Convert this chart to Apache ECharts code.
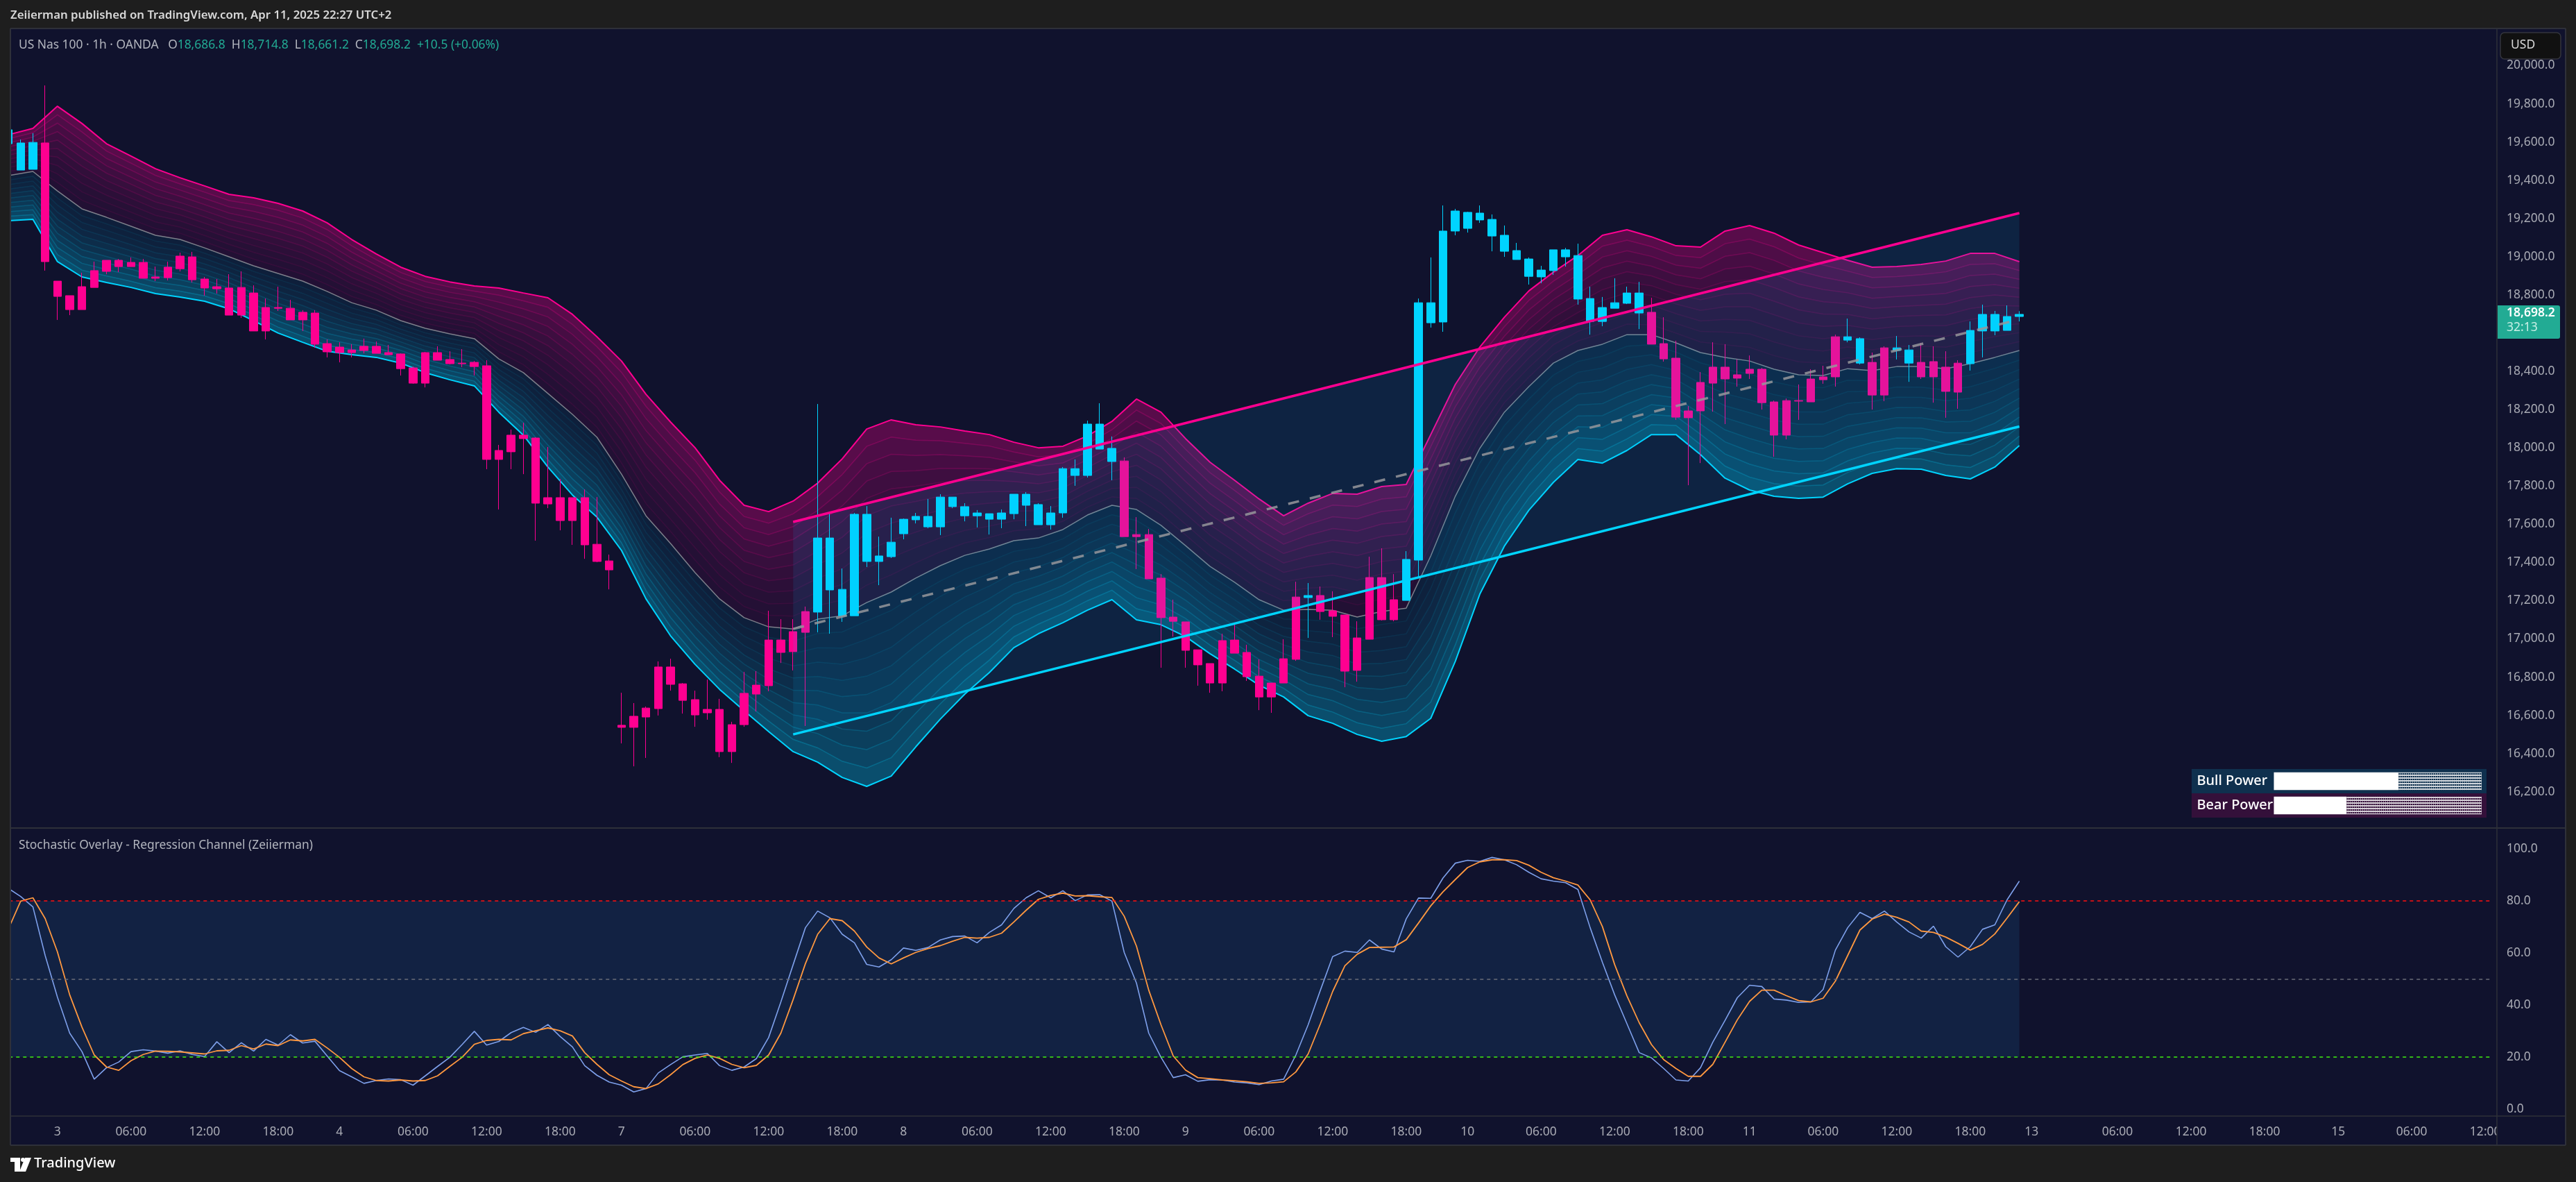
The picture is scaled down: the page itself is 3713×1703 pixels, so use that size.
<!DOCTYPE html>
<html>
<head>
<meta charset="utf-8">
<style>html,body{margin:0;padding:0;background:#1e1e1e}#main{width:3713px;height:1703px}</style>
<script src="https://cdn.jsdelivr.net/npm/echarts@6/dist/echarts.min.js"></script>
</head>
<body>
<div id="main"></div>
<script>
// tick labels under the lower pane, by bar index
var timeTickIndex = [4, 10, 16, 22, 27, 33, 39, 45, 50, 56, 62, 68, 73, 79, 85, 91, 96, 102, 108, 114, 119, 125, 131, 137, 142, 148, 154, 160, 165, 172, 178, 184, 190, 196, 202];
var timeTickLabel = ['3', '06:00', '12:00', '18:00', '4', '06:00', '12:00', '18:00', '7', '06:00', '12:00', '18:00', '8', '06:00', '12:00', '18:00', '9', '06:00', '12:00', '18:00', '10', '06:00', '12:00', '18:00', '11', '06:00', '12:00', '18:00', '13', '06:00', '12:00', '18:00', '15', '06:00', '12:00'];
var barSlots = 203;

// candles (one value per hour bar)
var opens = [19591, 19453, 19457, 19595, 18872, 18796, 18843, 18927, 18981, 18981, 18970, 18970, 18894, 18945, 19003, 18999, 18883, 18843, 18836, 18839, 18810, 18734, 18734, 18730, 18709, 18705, 18545, 18527, 18512, 18531, 18531, 18498, 18491, 18418, 18498, 18498, 18462, 18443, 18447, 18429, 17986, 18066, 18066, 18051, 17739, 17739, 17739, 17739, 17495, 17408, 16548, 16595, 16638, 16853, 16853, 16765, 16682, 16631, 16631, 16551, 16715, 16758, 16994, 16994, 17038, 17143,
    17140, 17256, 17121, 17121, 17405, 17405, 17430, 17550, 17623, 17586, 17586, 17692, 17644, 17644, 17626, 17626, 17655, 17699, 17597, 17597, 17659, 17855, 17855, 17993, 17928,
    17931, 17546, 17546, 17318, 17114, 17089, 16943, 16871, 16991, 16994, 16929, 16805, 16769, 16896, 17219, 17216, 17227, 17147, 17125, 17005, 17321, 17321, 17205,
    17201, 17412, 18654, 18658, 19134, 19148, 19192, 19108, 19028, 18985, 18897, 18894, 18927, 18999, 18778, 18661, 18661, 18730, 18756, 18705,
    18709, 18545, 18469, 18193, 18342, 18422, 18422, 18382, 18411, 18411, 18240, 18247, 18247, 18360, 18371, 18581,
    18563, 18443, 18447, 18523, 18509, 18443, 18447, 18451, 18422, 18443, 18440, 18611, 18611, 18614, 18686.8];
var closes = [19664, 19595, 19598, 18974, 18792, 18723, 18723, 18839, 18923, 18948, 18948, 18887, 18887, 18890, 18937, 18879, 18836, 18832, 18694, 18694, 18611, 18611, 18730, 18669, 18669, 18542, 18502, 18498, 18498, 18509, 18494, 18487, 18414, 18338, 18338, 18458, 18440, 18440, 18425, 17939, 17939, 17979, 18048, 17710, 17706, 17619, 17619, 17492, 17405, 17361, 16537, 16537, 16591, 16635, 16762, 16678, 16602, 16613, 16410, 16410, 16551, 16711, 16755, 16929, 16933, 17034,
    17528, 17528, 17259, 17652, 17652, 17434, 17506, 17626, 17641, 17641, 17742, 17742, 17692, 17659, 17655, 17659, 17757, 17757, 17703, 17659, 17891, 17891, 18124, 18124, 17997,
    17535, 17535, 17314, 17111, 17092, 16940, 16864, 16769, 16769, 16925, 16802, 16696, 16696, 16769, 16893, 17227, 17143, 17118, 16831, 16835, 16998, 17100, 17100,
    17416, 18759, 18759, 19134, 19239, 19232, 19228, 19195, 19112, 19032, 18988, 18930, 19036, 19036, 19006, 18781, 18734, 18759, 18810, 18810,
    18542, 18465, 18160, 18157, 18193, 18338, 18360, 18364, 18389, 18236, 18066, 18066, 18244, 18240, 18356, 18371,
    18581, 18571, 18276, 18276, 18523, 18512, 18371, 18371, 18295, 18291, 18614, 18698, 18698, 18687, 18698.2];
var lows = [19591, 19453, 19457, 18927, 18669, 18694, 18723, 18839, 18908, 18919, 18948, 18887, 18872, 18876, 18923, 18865, 18796, 18807, 18694, 18680, 18611, 18567, 18716, 18669, 18611, 18523, 18473, 18447, 18473, 18494, 18494, 18487, 18378, 18335, 18316, 18458, 18436, 18422, 18378, 17888, 17677, 17888, 17862, 17514, 17684, 17568, 17492, 17419, 17401, 17259, 16453, 16333, 16377, 16599, 16729, 16609, 16540, 16577, 16381, 16351, 16540, 16620, 16726, 16874, 16835, 16544,
    17034, 17027, 17089, 17121, 17376, 17281, 17423, 17521, 17604, 17579, 17543, 17684, 17615, 17583, 17546, 17579, 17626, 17590, 17597, 17572, 17634, 17801, 17844, 17993, 17830,
    17535, 17365, 17314, 16849, 17012, 16849, 16755, 16718, 16726, 16925, 16780, 16627, 16613, 16769, 16885, 17005, 17100, 17009, 16747, 16776, 16998, 17096, 17092,
    17201, 17318, 18629, 18607, 19112, 19126, 19177, 19028, 18999, 18985, 18854, 18861, 18905, 18948, 18749, 18592, 18636, 18730, 18752, 18621,
    18542, 18451, 18146, 17804, 17920, 18189, 18124, 18320, 18360, 18200, 17953, 18044, 18146, 18240, 18335, 18320,
    18552, 18436, 18200, 18244, 18462, 18345, 18360, 18236, 18157, 18204, 18404, 18473, 18589, 18614, 18661.2];
var highs = [19664, 19613, 19646, 19896, 18872, 18796, 18916, 18974, 18981, 18988, 18996, 18988, 18948, 18974, 19021, 19025, 18894, 18883, 18908, 18923, 18850, 18781, 18843, 18774, 18720, 18720, 18567, 18552, 18542, 18571, 18556, 18538, 18494, 18425, 18502, 18531, 18505, 18516, 18454, 18458, 18015, 18095, 18131, 18055, 18004, 17837, 17739, 17782, 17742, 17441, 16718, 16664, 16646, 16882, 16896, 16769, 16729, 16787, 16686, 16566, 16827, 16831, 17147, 17103, 17103, 17169,
    18229, 17666, 17368, 17659, 17695, 17535, 17634, 17630, 17659, 17732, 17757, 17742, 17710, 17674, 17655, 17677, 17757, 17768, 17710, 17695, 17899, 17939, 18142, 18233, 18059,
    17950, 17637, 17575, 17339, 17205, 17089, 16943, 16871, 17027, 17074, 16969, 16893, 16769, 16998, 17299, 17292, 17274, 17249, 17125, 17092, 17430, 17474, 17339,
    17459, 18781, 18996, 19268, 19250, 19235, 19268, 19221, 19163, 19072, 18996, 18952, 19036, 19046, 19068, 18843, 18789, 18887, 18843, 18868,
    18785, 18683, 18560, 18218, 18396, 18552, 18542, 18462, 18483, 18418, 18247, 18258, 18331, 18411, 18429, 18592,
    18676, 18578, 18498, 18531, 18585, 18538, 18549, 18531, 18505, 18458, 18661, 18749, 18716, 18745, 18714.8];

// band outline read every second bar, so the lines use their own x list
var bandIndex = [];
for (var b = 0; b <= 164; b += 2) bandIndex.push(b);
var bandUpper = [19638, 19671, 19787, 19697, 19591, 19526, 19460, 19413, 19370, 19326, 19308, 19279, 19239, 19177, 19090, 19014, 18945, 18897, 18868, 18847, 18836, 18810, 18785, 18698, 18581, 18454, 18280, 18135, 18000, 17830, 17699, 17666, 17721, 17815, 17942, 18098, 18146, 18120, 18109, 18088, 18069, 18029, 18000, 18008, 18062, 18138, 18255, 18186, 18048, 17924, 17830, 17732, 17644, 17710, 17761, 17757, 17797, 17808, 18069, 18331, 18527, 18683, 18821, 18919, 19006, 19112, 19141, 19104, 19057, 19050, 19134, 19163, 19123, 19061, 19021, 18981, 18945, 18948, 18959, 18977, 19017, 19017, 18974];
var bandMid = [19424, 19446, 19344, 19250, 19206, 19159, 19112, 19090, 19046, 18999, 18952, 18912, 18872, 18818, 18759, 18720, 18665, 18625, 18596, 18571, 18465, 18393, 18284, 18175, 18055, 17862, 17644, 17499, 17347, 17209, 17111, 17063, 17052, 17103, 17121, 17190, 17245, 17318, 17383, 17437, 17470, 17514, 17528, 17572, 17648, 17699, 17677, 17594, 17488, 17379, 17296, 17205, 17150, 17154, 17150, 17114, 17143, 17161, 17434, 17746, 17997, 18186, 18320, 18443, 18509, 18542, 18592, 18592, 18549, 18498, 18473, 18454, 18411, 18382, 18378, 18414, 18404, 18425, 18425, 18414, 18440, 18473, 18509];
var bandLower = [19188, 19195, 18974, 18894, 18865, 18839, 18807, 18789, 18767, 18727, 18665, 18600, 18552, 18505, 18487, 18473, 18443, 18393, 18356, 18324, 18186, 18066, 17899, 17753, 17637, 17463, 17209, 17016, 16867, 16736, 16624, 16515, 16410, 16355, 16275, 16228, 16282, 16435, 16580, 16711, 16824, 16954, 17027, 17085, 17150, 17205, 17100, 17074, 17012, 16922, 16842, 16758, 16696, 16598, 16558, 16500, 16464, 16489, 16584, 16882, 17234, 17485, 17673, 17819, 17939, 17920, 17986, 18069, 18069, 17964, 17841, 17779, 17746, 17735, 17742, 17811, 17866, 17891, 17888, 17855, 17837, 17899, 18011];
// the ribbon's inner lines sit at these even steps between the outline and the middle line
var bandLevels = [0, 0.1, 0.2, 0.3, 0.4, 0.5, 0.6, 0.7, 0.8, 0.9, 1];

// regression channel end points
var channelIndex = [64, 164];
var channelUpper = [17612, 19228];
var channelMid = [17052, 18672];
var channelLower = [16500, 18111];

// stochastic, one value per bar
var stochK = [84.8, 81.7, 77.7, 59.0, 43.0, 29.2, 22.1, 11.5, 15.9, 18.1, 22.1, 22.8, 22.3, 21.5, 22.4, 21.0, 20.2, 25.9, 21.7, 25.5, 22.3, 26.8, 24.6, 28.6, 25.4, 26.1, 20.4, 14.8, 12.4, 9.9, 11.0, 11.6, 11.3, 9.2, 12.8, 16.4, 19.9, 24.8, 29.9, 24.6, 26.0, 29.4, 31.4, 29.5, 32.5, 27.9, 23.9, 16.7, 13.0, 10.4, 9.2, 6.6, 7.9, 13.9, 17.1, 20.1, 20.8, 21.4, 16.7, 14.9, 16.2, 19.4,
    27.5, 41.2, 55.5, 69.7, 76.1, 73.5, 67.2, 63.9, 55.6, 54.6, 57.4, 61.9, 61.0, 62.1, 65.0, 66.3, 66.5, 63.9, 67.9, 70.8, 77.1, 81.2, 83.9, 81.2, 83.9, 80.1, 82.3, 82.4, 79.9, 60.2, 48.4, 29.2, 19.9, 12.1, 13.2, 10.7, 11.3, 11.2, 10.4, 10.1, 9.4, 10.8, 11.5, 20.8, 32.4, 45.7, 58.6, 60.7, 60.2, 65.0, 61.5, 60.4, 73.1, 81.1, 81.0, 88.8, 94.5, 95.6, 95.2, 96.7, 95.8, 93.9,
    91.0, 88.5, 87.6, 87.0, 84.4, 69.7, 56.4, 43.9, 32.8, 21.7, 19.7, 15.6, 11.2, 10.8, 15.9, 25.7, 34.1, 42.8, 47.6, 47.1, 42.3, 41.9, 41.0, 41.2, 46.0, 61.1, 69.7, 75.6, 73.2, 76.1, 71.9, 68.1, 65.7, 70.3, 62.4, 58.4, 62.4, 69.1, 70.8, 80.4, 87.6];
var stochD = [69.2, 79.9, 81.2, 73.2, 60.4, 43.9, 31.5, 20.8, 16.2, 14.9, 18.6, 21.0, 22.3, 22.2, 22.0, 21.6, 21.2, 22.4, 22.6, 24.4, 23.1, 25.0, 24.4, 26.6, 26.2, 26.8, 23.5, 19.9, 15.6, 12.4, 11.0, 10.8, 11.2, 10.8, 11.0, 12.8, 16.4, 19.9, 24.9, 26.4, 26.8, 26.6, 29.0, 30.1, 31.2, 30.1, 28.1, 21.7, 17.2, 13.2, 10.8, 8.6, 7.9, 9.7, 13.2, 17.1, 19.5, 20.8, 19.5, 17.2, 15.9, 16.8,
    20.8, 29.2, 42.1, 55.9, 67.2, 73.2, 72.4, 68.4, 62.3, 58.1, 55.8, 58.1, 60.2, 61.7, 62.8, 64.5, 66.0, 65.7, 66.0, 67.6, 71.9, 76.4, 80.6, 82.1, 83.0, 81.9, 82.0, 81.6, 81.3, 74.1, 62.6, 45.7, 32.4, 20.4, 15.0, 12.1, 11.7, 11.2, 10.9, 10.5, 9.9, 10.1, 10.5, 14.3, 21.2, 32.8, 45.2, 55.1, 59.5, 62.1, 62.2, 62.3, 65.1, 71.5, 78.1, 83.5, 88.2, 92.8, 95.0, 95.8, 95.8, 95.5,
    93.7, 91.0, 88.9, 87.6, 86.1, 80.4, 70.1, 55.5, 43.5, 33.2, 24.8, 19.0, 15.6, 12.6, 12.6, 17.2, 25.7, 34.3, 41.4, 45.7, 45.7, 43.6, 41.7, 41.2, 42.6, 49.2, 59.0, 68.8, 73.0, 74.9, 73.7, 71.9, 68.4, 67.9, 66.1, 63.7, 61.1, 63.3, 67.3, 73.4, 79.7];
var stochLevels = [80, 50, 20];
var stochBandEnd = 164;

// power table
var powerNames = ['Bull Power', 'Bear Power'];
var powerValues = [60, 35];

var PINK = '#ff0090', CYAN = '#00d4ff', PANE = '#10122d', FRAME = '#1e1e1e', EDGE = '#2e3039', AXISTEXT = '#a9abb4';
var FONT = '"Noto Sans", sans-serif';

var categories = [];
for (var c = 0; c < barSlots; c++) categories.push('');
timeTickIndex.forEach(function(idx, n) { categories[idx] = timeTickLabel[n]; });

var candleData = opens.map(function(o, i) { return [o, closes[i], lows[i], highs[i]]; });

function pairs(xs, ys) {
    return xs.map(function(x, i) { return [x, ys[i]]; });
}

// one polygon and one thin line per ribbon step
function ribbonSeries(edge, alphaOuter, alphaInner, rgb) {
    return {
        type: 'custom',
        coordinateSystem: 'cartesian2d',
        xAxisIndex: 0,
        yAxisIndex: 0,
        z: 1,
        silent: true,
        data: [[0, 0]],
        renderItem: function(params, api) {
            var children = [];
            for (var k = 0; k < bandLevels.length - 1; k++) {
                var a = bandLevels[k], b = bandLevels[k + 1];
                var top = bandIndex.map(function(x, i) { return api.coord([x, edge[i] + (bandMid[i] - edge[i]) * a]); });
                var bottom = bandIndex.map(function(x, i) { return api.coord([x, edge[i] + (bandMid[i] - edge[i]) * b]); });
                // fades fast near the outline, slow near the middle line
                var fade = Math.pow(1 - k / (bandLevels.length - 2), 1.6);
                var alpha = alphaInner + (alphaOuter - alphaInner) * fade;
                children.push({
                    type: 'polygon',
                    shape: { points: top.concat(bottom.reverse()) },
                    style: { fill: 'rgba(' + rgb + ',' + alpha + ')' }
                });
                if (k > 0) {
                    children.push({
                        type: 'polyline',
                        shape: { points: top },
                        style: { fill: 'none', stroke: 'rgba(' + rgb + ',' + (alpha * 0.9 + 0.02) + ')', lineWidth: 1.5 }
                    });
                }
            }
            return { type: 'group', children: children };
        }
    };
}

function bandLine(name, values, color, width) {
    return {
        name: name,
        type: 'line',
        xAxisIndex: 0,
        yAxisIndex: 0,
        z: 2,
        silent: true,
        showSymbol: false,
        symbol: 'none',
        lineStyle: { color: color, width: width },
        data: pairs(bandIndex, values)
    };
}

function channelLine(name, values, color, width, type) {
    return {
        name: name,
        type: 'line',
        xAxisIndex: 0,
        yAxisIndex: 0,
        z: 6,
        silent: true,
        symbol: 'none',
        lineStyle: { color: color, width: width, type: type || 'solid' },
        data: pairs(channelIndex, values)
    };
}

function dotPattern() {
    var cv = document.createElement('canvas');
    cv.width = 3;
    cv.height = 4;
    var ctx = cv.getContext('2d');
    ctx.fillStyle = 'rgba(255,255,255,0.8)';
    ctx.fillRect(0, 0, 3, 2);
    ctx.fillStyle = 'rgba(255,255,255,0.45)';
    ctx.fillRect(0, 2, 1, 2);
    return cv;
}

var myChart = echarts.init(document.getElementById('main'), null, { renderer: 'canvas' });

var option = {
    animation: false,
    backgroundColor: PANE,
    textStyle: { fontFamily: FONT },
    grid: [
        { left: 3.26, top: 39.4, width: 3587.8, height: 1156.4 },
        { left: 3.26, top: 1223, width: 3587.8, height: 375 },
        { left: 3277.5, top: 1108, width: 299.5, height: 70 }
    ],
    xAxis: [
        { type: 'category', gridIndex: 0, data: categories, show: false },
        {
            type: 'category',
            gridIndex: 1,
            data: categories,
            z: 5,
            axisLine: { show: false },
            axisTick: { show: false },
            splitLine: { show: false },
            axisLabel: { interval: 0, color: AXISTEXT, fontSize: 17.5, fontFamily: FONT, margin: 24 }
        },
        { type: 'value', gridIndex: 2, min: 0, max: 100, show: false }
    ],
    yAxis: [
        {
            type: 'value',
            gridIndex: 0,
            position: 'right',
            min: 16000,
            max: 20200,
            interval: 200,
            z: 200,
            axisLine: { show: false },
            axisTick: { show: false },
            splitLine: { show: false },
            axisLabel: {
                color: AXISTEXT,
                fontSize: 17.5,
                fontFamily: FONT,
                margin: 22,
                showMinLabel: false,
                showMaxLabel: false,
                formatter: function(v) { return echarts.format.addCommas(v.toFixed(1)); }
            }
        },
        {
            type: 'value',
            gridIndex: 1,
            position: 'right',
            min: 0,
            max: 100,
            interval: 20,
            z: 200,
            axisLine: { show: false },
            axisTick: { show: false },
            splitLine: { show: false },
            axisLabel: {
                color: AXISTEXT,
                fontSize: 17.5,
                fontFamily: FONT,
                margin: 22,
                formatter: function(v) { return v.toFixed(1); }
            }
        },
        {
            type: 'category',
            gridIndex: 2,
            inverse: true,
            data: powerNames,
            z: 130,
            axisLine: { show: false },
            axisTick: { show: false },
            axisLabel: { color: '#ffffff', fontSize: 20, fontWeight: 500, fontFamily: FONT, align: 'left', margin: 111 }
        }
    ],
    series: [
        ribbonSeries(bandUpper, 0.3, 0.08, '255,0,144'),
        ribbonSeries(bandLower, 0.34, 0.08, '0,195,235'),
        bandLine('upper', bandUpper, PINK, 2),
        bandLine('mid', bandMid, '#7d7f8a', 1.5),
        bandLine('lower', bandLower, CYAN, 2),
        {
            name: 'US Nas 100',
            type: 'candlestick',
            xAxisIndex: 0,
            yAxisIndex: 0,
            z: 3,
            silent: true,
            barWidth: 12,
            itemStyle: {
                color: CYAN,
                borderColor: CYAN,
                color0: PINK,
                borderColor0: PINK,
                borderWidth: 1
            },
            data: candleData
        },
        {
            // regression channel fill sits over the candles, it tints the pink ones
            type: 'custom',
            coordinateSystem: 'cartesian2d',
            xAxisIndex: 0,
            yAxisIndex: 0,
            z: 5,
            silent: true,
            data: [[0, 0]],
            renderItem: function(params, api) {
                return {
                    type: 'polygon',
                    shape: {
                        points: [
                            api.coord([channelIndex[0], channelUpper[0]]),
                            api.coord([channelIndex[1], channelUpper[1]]),
                            api.coord([channelIndex[1], channelLower[1]]),
                            api.coord([channelIndex[0], channelLower[0]])
                        ]
                    },
                    style: { fill: 'rgba(0,190,255,0.1)' }
                };
            }
        },
        channelLine('channel upper', channelUpper, PINK, 3.5),
        channelLine('channel mid', channelMid, 'rgba(150,150,155,0.85)', 3.5, [16, 16]),
        channelLine('channel lower', channelLower, CYAN, 3.5),
        {
            name: 'level fill',
            type: 'line',
            xAxisIndex: 1,
            yAxisIndex: 1,
            z: 1,
            silent: true,
            symbol: 'none',
            lineStyle: { width: 0 },
            data: [],
            markArea: {
                silent: true,
                itemStyle: { color: '#122243' },
                data: [[{ xAxis: 0, yAxis: stochLevels[2] }, { xAxis: stochBandEnd, yAxis: stochLevels[0] }]]
            },
            markLine: {
                silent: true,
                symbol: 'none',
                label: { show: false },
                data: [
                    { yAxis: stochLevels[0], lineStyle: { color: '#ff1010', type: [5, 5], width: 1.5 } },
                    { yAxis: stochLevels[1], lineStyle: { color: '#6b6d78', type: [5, 5], width: 1.5 } },
                    { yAxis: stochLevels[2], lineStyle: { color: '#40f010', type: [5, 5], width: 1.5 } }
                ]
            }
        },
        {
            name: 'K',
            type: 'line',
            xAxisIndex: 1,
            yAxisIndex: 1,
            z: 3,
            silent: true,
            symbol: 'none',
            lineStyle: { color: '#7ea0eb', width: 1.6 },
            data: stochK
        },
        {
            name: 'D',
            type: 'line',
            xAxisIndex: 1,
            yAxisIndex: 1,
            z: 4,
            silent: true,
            symbol: 'none',
            lineStyle: { color: '#ff9840', width: 1.8 },
            data: stochD
        },
        {
            name: 'power',
            type: 'bar',
            xAxisIndex: 2,
            yAxisIndex: 2,
            z: 130,
            silent: true,
            stack: 'power',
            barWidth: 25.5,
            itemStyle: { color: '#ffffff' },
            data: powerValues
        },
        {
            name: 'power rest',
            type: 'bar',
            xAxisIndex: 2,
            yAxisIndex: 2,
            z: 130,
            silent: true,
            stack: 'power',
            barWidth: 25.5,
            itemStyle: { color: { image: dotPattern(), repeat: 'repeat' } },
            data: powerValues.map(function(v) { return 100 - v; })
        }
    ],
    graphic: { elements: [
        // price scale background, cuts the last time label
        { type: 'rect', z: 100, shape: { x: 3599, y: 41, width: 99, height: 1609 }, style: { fill: PANE } },
        // outer frame
        { type: 'rect', z: 150, shape: { x: 0, y: 0, width: 3713, height: 41 }, style: { fill: FRAME } },
        { type: 'rect', z: 150, shape: { x: 0, y: 1650, width: 3713, height: 53 }, style: { fill: FRAME } },
        { type: 'rect', z: 150, shape: { x: 0, y: 0, width: 15, height: 1703 }, style: { fill: FRAME } },
        { type: 'rect', z: 150, shape: { x: 3698, y: 0, width: 15, height: 1703 }, style: { fill: FRAME } },
        // pane edges
        { type: 'line', z: 160, shape: { x1: 15, y1: 41, x2: 3698, y2: 41 }, style: { stroke: EDGE, lineWidth: 2 } },
        { type: 'line', z: 160, shape: { x1: 15, y1: 1193, x2: 3698, y2: 1193 }, style: { stroke: EDGE, lineWidth: 2 } },
        { type: 'line', z: 160, shape: { x1: 15, y1: 1608, x2: 3698, y2: 1608 }, style: { stroke: EDGE, lineWidth: 1.5 } },
        { type: 'line', z: 160, shape: { x1: 15, y1: 1650, x2: 3698, y2: 1650 }, style: { stroke: EDGE, lineWidth: 2 } },
        { type: 'line', z: 160, shape: { x1: 15, y1: 41, x2: 15, y2: 1650 }, style: { stroke: EDGE, lineWidth: 2 } },
        { type: 'line', z: 160, shape: { x1: 3599, y1: 41, x2: 3599, y2: 1650 }, style: { stroke: EDGE, lineWidth: 1.5 } },
        { type: 'line', z: 160, shape: { x1: 3698, y1: 41, x2: 3698, y2: 1650 }, style: { stroke: EDGE, lineWidth: 2 } },
        // texts
        { type: 'text', z: 170, x: 15, y: 14, style: { text: 'Zeiierman published on TradingView.com, Apr 11, 2025 22:27 UTC+2', fill: '#d8d8d8', font: '600 16.8px ' + FONT } },
        {
            type: 'text', z: 170, x: 27, y: 57,
            style: {
                text: '{g|US Nas 100 · 1h · OANDA   O}{t|18,686.8}{g|  H}{t|18,714.8}{g|  L}{t|18,661.2}{g|  C}{t|18,698.2}{t|  +10.5 (+0.06%)}',
                font: '17.4px ' + FONT,
                rich: {
                    g: { fill: '#b2b5be', font: '17.4px ' + FONT },
                    t: { fill: '#22ab94', font: '17.4px ' + FONT }
                }
            }
        },
        { type: 'text', z: 170, x: 27, y: 1210, style: { text: 'Stochastic Overlay - Regression Channel (Zeiierman)', fill: '#b2b5be', font: '17.4px ' + FONT } },
        // USD box
        { type: 'rect', z: 210, shape: { x: 3604, y: 47, width: 87, height: 38, r: 6 }, style: { fill: '#111111', stroke: '#33353c', lineWidth: 1.5 } },
        { type: 'text', z: 211, x: 3619, y: 56, style: { text: 'USD', fill: '#d8d8d8', font: '17.5px ' + FONT } },
        // last price tag
        { type: 'rect', z: 210, shape: { x: 3600, y: 440, width: 90, height: 48, r: [0, 3, 3, 0] }, style: { fill: '#22ab94' } },
        { type: 'text', z: 211, x: 3613, y: 442, style: { text: '18,698.2', fill: '#ffffff', font: '600 17.5px ' + FONT } },
        { type: 'text', z: 211, x: 3613, y: 463, style: { text: '32:13', fill: '#c8efe6', font: '17.5px ' + FONT } },
        // power table rows
        { type: 'rect', z: 120, shape: { x: 3159, y: 1108, width: 425, height: 35 }, style: { fill: '#0f304e' } },
        { type: 'rect', z: 120, shape: { x: 3159, y: 1143, width: 425, height: 35 }, style: { fill: '#34103a' } },
        // logo
        { type: 'rect', z: 170, shape: { x: 15, y: 1668, width: 14, height: 6 }, style: { fill: '#ffffff' } },
        { type: 'rect', z: 170, shape: { x: 21, y: 1668, width: 8, height: 20 }, style: { fill: '#ffffff' } },
        { type: 'circle', z: 170, shape: { cx: 33, cy: 1671, r: 3 }, style: { fill: '#ffffff' } },
        { type: 'polygon', z: 170, shape: { points: [[36, 1668], [45, 1668], [37, 1688], [28, 1688]] }, style: { fill: '#ffffff' } },
        { type: 'text', z: 170, x: 49, y: 1666, style: { text: 'TradingView', fill: '#ffffff', font: '500 20px ' + FONT } }
    ] }
};

myChart.setOption(option);
</script>
</body>
</html>
